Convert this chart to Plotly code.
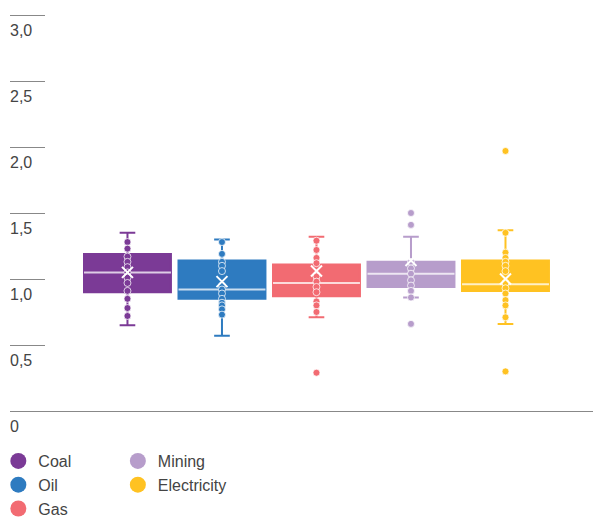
import plotly.graph_objects as go

categories = ["Coal", "Oil", "Gas", "Mining", "Electricity"]
colors = ["#7B3A96", "#2E7BC0", "#F26B72", "#B79DCB", "#FFC222"]

q1 = [0.90, 0.85, 0.87, 0.94, 0.91]
median = [1.05, 0.92, 0.97, 1.04, 0.96]
q3 = [1.19, 1.14, 1.11, 1.13, 1.14]
lowerfence = [0.65, 0.57, 0.71, 0.86, 0.66]
upperfence = [1.35, 1.30, 1.32, 1.32, 1.37]
mean = [1.05, 0.98, 1.06, 1.14, 1.00]

coal_pts = [1.28, 1.23, 1.17, 1.13, 1.09, 1.05, 1.01, 0.97, 0.91, 0.85, 0.78, 0.72]
oil_pts = [1.28, 1.19, 1.13, 1.10, 1.06, 0.95, 0.92, 0.89, 0.85, 0.82, 0.80, 0.77, 0.73]
gas_pts = [1.29, 1.22, 1.16, 1.12, 1.02, 0.98, 0.94, 0.90, 0.83, 0.80, 0.75, 0.29]
mining_pts = [1.50, 1.41, 1.13, 1.08, 1.04, 0.99, 0.95, 0.91, 0.86, 0.66]
electricity_pts = [1.97, 1.35, 1.20, 1.16, 1.13, 1.10, 1.06, 0.97, 0.93, 0.89, 0.84, 0.80, 0.71, 0.30]
points = [coal_pts, oil_pts, gas_pts, mining_pts, electricity_pts]

y_tickvals = [0, 0.5, 1.0, 1.5, 2.0, 2.5, 3.0]
y_ticktext = ["0", "0,5", "1,0", "1,5", "2,0", "2,5", "3,0"]

fig = go.Figure()

for i, cat in enumerate(categories):
    fig.add_trace(go.Box(
        x=[cat], q1=[q1[i]], median=[median[i]], q3=[q3[i]],
        lowerfence=[lowerfence[i]], upperfence=[upperfence[i]],
        fillcolor=colors[i], line=dict(color=colors[i], width=2),
        whiskerwidth=0.18, boxpoints=False, showlegend=False, hoverinfo="skip",
    ))
    # median line as a zero-height box
    fig.add_trace(go.Box(
        x=[cat], q1=[median[i]], median=[median[i]], q3=[median[i]],
        lowerfence=[median[i]], upperfence=[median[i]],
        fillcolor="rgba(0,0,0,0)", line=dict(color="rgba(255,255,255,0.75)", width=2),
        whiskerwidth=0, boxpoints=False, showlegend=False, hoverinfo="skip",
    ))

for i, cat in enumerate(categories):
    fig.add_trace(go.Scatter(
        x=[cat] * len(points[i]), y=points[i], mode="markers",
        marker=dict(size=7, color=colors[i], line=dict(color="rgba(255,255,255,0.75)", width=1)),
        showlegend=False, hoverinfo="skip",
    ))

fig.add_trace(go.Scatter(
    x=categories, y=mean, mode="markers",
    marker=dict(symbol="x-thin", size=11, line=dict(color="white", width=2)),
    showlegend=False, hoverinfo="skip",
))

for i, cat in enumerate(categories):
    fig.add_trace(go.Scatter(
        x=[None], y=[None], mode="markers", name=cat,
        marker=dict(size=16, color=colors[i]),
        legend="legend" if i < 3 else "legend2",
    ))

legend_common = dict(
    orientation="v", xanchor="left", yanchor="top",
    font=dict(family="Liberation Sans, Arial, sans-serif", size=16, color="#444"),
    bgcolor="rgba(0,0,0,0)", itemwidth=30, tracegroupgap=0,
)

fig.update_layout(
    width=593, height=517,
    margin=dict(l=10, r=0, t=12, b=73, autoexpand=False),
    paper_bgcolor="white", plot_bgcolor="white",
    boxmode="overlay", boxgap=0.08, boxgroupgap=0,
    font=dict(family="Liberation Sans, Arial, sans-serif", size=16, color="#555"),
    xaxis=dict(
        range=[-1.243, 4.926], showticklabels=False, ticks="", showgrid=False,
        zeroline=False, showline=False,
    ),
    yaxis=dict(
        range=[-0.25, 3.0227], tickvals=y_tickvals, ticktext=y_ticktext,
        showgrid=False, zeroline=True, zerolinecolor="#888", zerolinewidth=1,
        showline=False, automargin=False,
        ticks="inside", ticklen=35, tickcolor="#888", tickwidth=1,
        ticklabelposition="inside bottom", ticklabelstandoff=-3, ticklabelshift=4,
    ),
    legend=dict(x=-0.02, y=0.0, **legend_common),
    legend2=dict(x=0.185, y=0.0, **legend_common),
    showlegend=True,
)

fig.write_html(
    "out.html",
    config={"displayModeBar": False},
    post_script="document.body.style.margin='0';document.body.style.overflow='hidden';",
)
